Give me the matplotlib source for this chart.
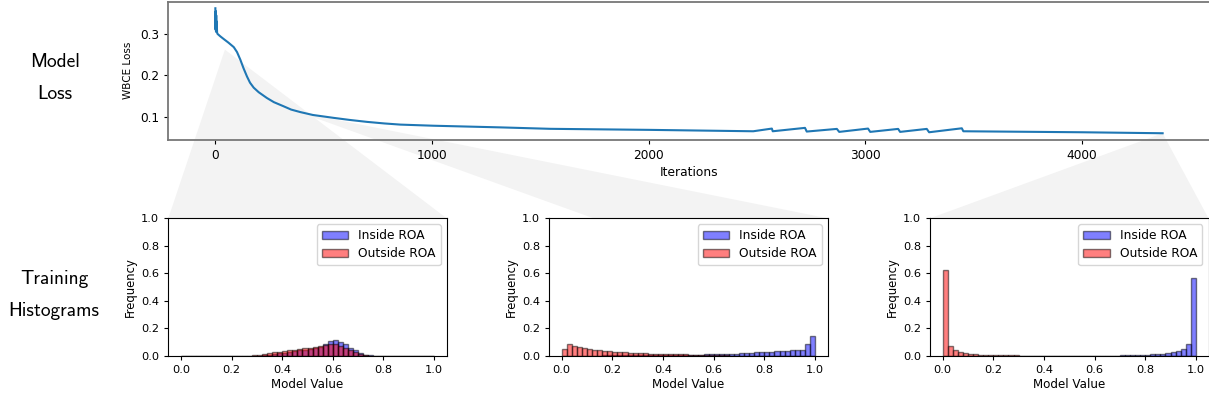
import numpy as np
import matplotlib
matplotlib.use("Agg")
import matplotlib.pyplot as plt
from matplotlib.patches import Polygon

# ---------------- data ----------------
loss_iters = [0, 1, 2, 3, 4, 5, 6, 8, 10, 23, 40, 60, 85, 100, 115, 130, 146, 160, 177,
              200, 238, 270, 315, 350, 392, 450, 546, 620, 700, 780, 854, 1006, 1315,
              1546, 2000, 2483, 2569, 2573, 2722, 2730,
              2869, 2880, 3013, 3023, 3152, 3161, 3284, 3295, 3446, 3453, 4000, 4373]
loss_values = [0.362, 0.310, 0.355, 0.305, 0.345, 0.310, 0.330, 0.303, 0.300, 0.294,
               0.287, 0.279, 0.268, 0.256, 0.238, 0.217, 0.197, 0.182, 0.170,
               0.159, 0.145, 0.135, 0.125, 0.117, 0.111, 0.104, 0.097, 0.092, 0.0873,
               0.0835, 0.0807, 0.078, 0.074,
               0.0705, 0.068, 0.0646, 0.0711, 0.0646, 0.0728, 0.0639,
               0.0703, 0.0631, 0.0711, 0.0631, 0.0703, 0.0631,
               0.0703, 0.0622, 0.0718, 0.0646, 0.0622, 0.0598]

# wedge anchor points on the loss plot (iteration, loss)
anchor_iters = [44, 392, 4373]
anchor_loss = [0.262, 0.110, 0.0598]

n_bins = 50
bin_edges = np.linspace(0.0, 1.0, n_bins + 1)

# Snapshot 1 (early training)
h1_inside = [0]*15 + [0.003, 0.005, 0.01, 0.015, 0.02, 0.025, 0.03, 0.035, 0.04, 0.045,
                      0.052, 0.058, 0.065, 0.09, 0.11, 0.115, 0.105, 0.085, 0.06, 0.04,
                      0.02, 0.01, 0.005, 0.002, 0.001] + [0]*10
h1_outside = [0]*13 + [0.002, 0.004, 0.008, 0.015, 0.022, 0.028, 0.032, 0.035, 0.04, 0.045,
                       0.05, 0.055, 0.06, 0.066, 0.072, 0.08, 0.085, 0.085, 0.075, 0.06, 0.045,
                       0.03, 0.015, 0.006, 0.003, 0.002, 0.001] + [0]*10

# Snapshot 2 (mid training)
h2_inside = [0.001, 0.002, 0.002, 0.002, 0.003, 0.003, 0.003, 0.003, 0.004, 0.004,
             0.004, 0.004, 0.005, 0.005, 0.005, 0.005, 0.006, 0.006, 0.006, 0.007,
             0.007, 0.007, 0.008, 0.008, 0.008, 0.009, 0.009, 0.010, 0.011, 0.012,
             0.012, 0.013, 0.014, 0.016, 0.018, 0.020, 0.022, 0.024, 0.026, 0.028,
             0.030, 0.032, 0.034, 0.036, 0.038, 0.040, 0.041, 0.043, 0.085, 0.143]
h2_outside = [0.051, 0.087, 0.075, 0.068, 0.060, 0.053, 0.046, 0.041, 0.036, 0.034,
              0.031, 0.029, 0.027, 0.025, 0.023, 0.021, 0.020, 0.018, 0.017, 0.016,
              0.015, 0.014, 0.013, 0.012, 0.011, 0.010, 0.009, 0.008, 0.007, 0.006,
              0.005, 0.004, 0.004, 0.003, 0.003, 0.002, 0.002, 0.002, 0.001, 0.001,
              0.001, 0.001, 0.001, 0.001, 0.001, 0.001, 0.0, 0.0, 0.0, 0.0]

# Snapshot 3 (end of training)
h3_inside = [0.0]*20 + [0.001, 0.001, 0.001, 0.001, 0.001, 0.001, 0.001, 0.002, 0.002, 0.002,
                        0.002, 0.002, 0.003, 0.003, 0.003, 0.004, 0.004, 0.005, 0.006, 0.007,
                        0.009, 0.011, 0.014, 0.017, 0.022, 0.029, 0.039, 0.053, 0.085, 0.569]
h3_outside = [0.625, 0.075, 0.041, 0.029, 0.022, 0.017, 0.013, 0.010, 0.008, 0.007,
              0.006, 0.005, 0.005, 0.004, 0.004, 0.003, 0.003, 0.003, 0.002, 0.002,
              0.002, 0.002, 0.002, 0.001, 0.001, 0.001, 0.001, 0.001, 0.001, 0.001] + [0.0]*20

hist_inside = [h1_inside, h2_inside, h3_inside]
hist_outside = [h1_outside, h2_outside, h3_outside]

# ---------------- figure ----------------
W, H = 1209, 403
fig = plt.figure(figsize=(W / 100, H / 100), dpi=100)


def px_axes(left, right, top, bottom):
    return fig.add_axes([left / W, 1 - bottom / H, (right - left) / W, (bottom - top) / H])


ax_loss = px_axes(168, 1210, 2, 139.5)
ax_loss.plot(loss_iters, loss_values, color="#1f77b4", lw=1.5, zorder=3)
ax_loss.set_xlabel("Iterations", fontsize=8.8, labelpad=3)
ax_loss.set_ylabel("WBCE Loss", fontsize=7.5, labelpad=5)
ax_loss.set_yticks([0.1, 0.2, 0.3])
ax_loss.set_xticks([0, 1000, 2000, 3000, 4000])
ax_loss.tick_params(labelsize=8.7, length=3)
for sp in ax_loss.spines.values():
    sp.set_color("#777777")
    sp.set_linewidth(1.3)

hist_pos = [(168.3, 446.7), (549, 827.7), (930, 1208.5)]
wedge_left_frac = [0.0, 0.16, 0.0]
hist_axes = []
centers = (bin_edges[:-1] + bin_edges[1:]) / 2
for (l, r), hin, hout in zip(hist_pos, hist_inside, hist_outside):
    ax = px_axes(l, r, 218.3, 356)
    ax.hist(centers, bins=bin_edges, weights=hin, color="blue", alpha=0.5,
            edgecolor="black", linewidth=1, label="Inside ROA")
    ax.hist(centers, bins=bin_edges, weights=hout, color="red", alpha=0.5,
            edgecolor="black", linewidth=1, label="Outside ROA")
    ax.set_ylim(0, 1.0)
    ax.set_xticks([0.0, 0.2, 0.4, 0.6, 0.8, 1.0])
    ax.set_yticks([0.0, 0.2, 0.4, 0.6, 0.8, 1.0])
    ax.tick_params(labelsize=8.2, length=3)
    ax.set_xlabel("Model Value", fontsize=8.6, labelpad=2)
    ax.set_ylabel("Frequency", fontsize=8.4, labelpad=3)
    ax.legend(loc="upper right", fontsize=8.8, handlelength=2.2, borderaxespad=0.5,
              labelspacing=0.4)
    hist_axes.append(ax)

# wedges connecting loss curve to histograms
fig.canvas.draw()
inv = fig.transFigure.inverted()
for ax, ai, al, lf in zip(hist_axes, anchor_iters, anchor_loss, wedge_left_frac):
    apex = inv.transform(ax_loss.transData.transform((ai, al)))
    tl = inv.transform(ax.transAxes.transform((lf, 1)))
    tr = inv.transform(ax.transAxes.transform((1, 1)))
    poly = Polygon([apex, tl, tr], closed=True, transform=fig.transFigure,
                   facecolor="#f3f3f3", edgecolor="none", clip_on=False, zorder=0.5)
    ax_loss.add_patch(poly)

fig.text(55 / W, 1 - 78 / H, "Model\nLoss", ha="center", va="center",
         fontsize=14, family="cmss10", linespacing=1.95)
fig.text(54 / W, 1 - 295 / H, "Training\nHistograms", ha="center", va="center",
         fontsize=14, family="cmss10", linespacing=1.95)

fig.savefig("out.png", dpi=100)
